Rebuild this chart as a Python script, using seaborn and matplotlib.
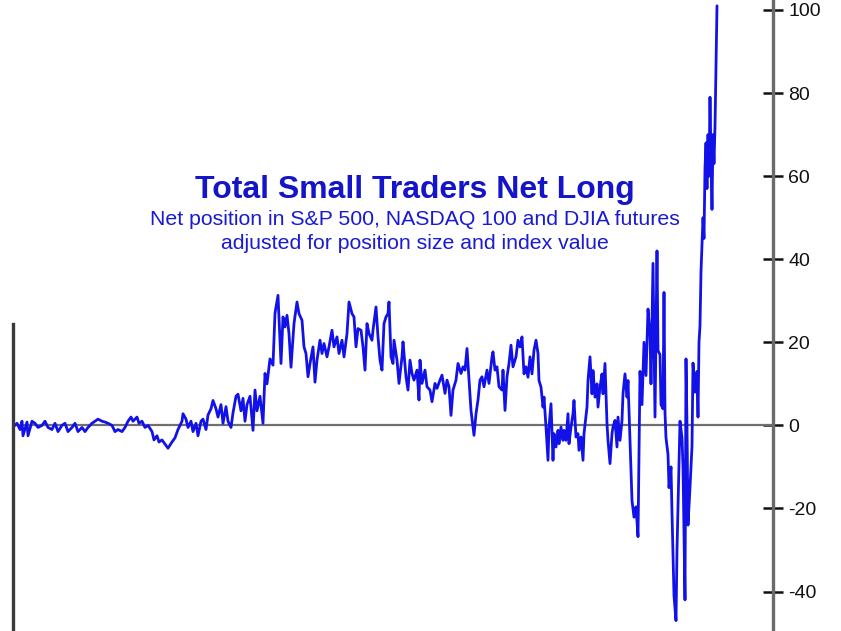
import numpy as np
import pandas as pd
import matplotlib.pyplot as plt
import seaborn as sns

# (week, net long) readings, split into eras
flat_era = [(0, 0.0), (2, 0.5), (5, -1.0), (7, 1.0), (8, -2.5), (12, 0.8), (13, -2.5), (17, 1.0),
            (20, 0.5), (23, -0.5), (27, 0.0), (30, 1.0), (33, -0.5), (37, -1.0), (40, 0.5), (43, -1.5),
            (47, 0.0), (50, 0.5), (53, -1.5), (57, -0.5), (60, 0.5), (63, -1.5), (67, -0.5), (70, -1.5),
            (73, -0.5), (77, 0.5), (80, 1.0), (83, 1.5), (87, 1.0), (90, 0.8), (93, 0.5), (97, 0.0),
            (100, -1.5), (103, -1.0), (107, -1.5), (110, -0.5), (113, 1.0), (116, 2.0), (118, 1.0),
            (122, 2.0), (124, 0.5), (127, 1.0), (130, -0.5), (133, 0.0), (137, -1.5), (139, -3.5),
            (142, -2.5), (144, -4.0), (147, -3.5), (150, -4.5), (153, -5.5), (157, -4.0), (160, -3.0),
            (163, -1.0)]

rise_era = [(167, 1.0), (168, 2.8), (171, 1.5), (173, -0.5), (176, 1.0), (178, -1.5), (181, 0.5),
            (183, -2.5), (186, 1.0), (188, 1.5), (191, -1.0), (193, 2.5), (196, 4.0), (198, 6.0),
            (201, 4.0), (203, 2.0), (206, 5.0), (208, 0.5), (211, 4.5), (213, 1.0), (216, -0.5),
            (218, 3.0), (221, 7.0), (223, 7.5), (226, 3.5), (228, 6.5), (230, 1.0), (232, 5.0),
            (235, 7.0), (238, -1.2), (240, 8.5), (242, 3.5), (245, 7.0), (248, 0.5), (250, 12.5),
            (252, 10.0), (255, 16.0), (258, 14.5), (260, 27.0), (263, 31.3), (266, 14.9), (268, 26.1),
            (270, 23.7), (272, 26.5), (274, 22.1), (276, 14.0), (279, 24.5), (282, 29.7), (284, 26.9),
            (287, 25.3), (289, 18.9), (291, 17.3), (293, 11.7), (295, 14.9), (298, 18.9), (300, 10.4),
            (302, 15.7), (305, 20.5), (307, 17.3), (309, 19.7), (312, 16.5), (314, 18.9), (317, 22.9),
            (319, 18.9), (322, 21.3), (324, 17.3), (327, 20.5), (329, 16.5), (332, 22.1), (334, 29.7)]

mid_era = [(337, 26.9), (339, 26.1), (341, 18.9), (343, 23.3), (346, 22.9), (348, 18.9), (350, 13.3),
           (352, 24.5), (354, 22.1), (357, 20.5), (358, 22.9), (361, 28.5), (363, 21.3), (365, 15.7),
           (367, 13.3), (369, 24.5), (371, 26.1), (373, 26.9), (374, 29.7), (376, 16.5), (378, 14.9),
           (379, 20.5), (382, 15.7), (384, 10.1), (387, 16.5), (388, 20.1), (391, 11.7), (393, 8.5),
           (395, 15.7), (397, 12.5), (399, 10.9), (402, 13.3), (404, 6.1), (405, 15.7), (407, 10.1),
           (410, 13.3), (412, 9.3), (415, 8.5), (417, 5.7), (420, 10.1), (422, 8.9), (425, 10.9),
           (427, 12.1), (430, 7.7), (432, 10.9), (434, 9.3), (436, 2.4), (438, 8.5), (441, 10.9),
           (443, 14.9), (446, 12.5), (448, 14.1), (450, 13.3), (452, 18.5), (454, 10.9), (456, 3.6),
           (458, -0.4), (459, -2.4), (461, 2.8), (463, 6.1), (465, 10.9), (467, 11.7), (469, 9.3),
           (472, 13.3), (474, 10.1), (477, 16.5), (478, 17.7), (480, 13.3), (482, 14.1), (484, 9.3),
           (487, 8.5), (488, 13.3), (490, 3.6), (492, 11.7), (494, 14.9), (496, 19.3), (498, 14.1),
           (501, 16.5), (503, 20.5), (505, 18.9)]

choppy_era = [(507, 21.3), (509, 12.4), (511, 14.1), (513, 11.6), (515, 16.5), (517, 12.4), (519, 18.1),
              (521, 20.5), (523, 17.3), (524, 10.8), (526, 9.2), (528, 4.4), (529, 6.8), (531, -0.4),
              (533, -8.4), (534, -0.4), (536, 5.2), (538, -8.4), (539, -2.0), (541, -5.2), (543, -1.2),
              (544, -4.4), (546, -0.4), (548, -3.6), (549, -1.2), (551, -3.6), (553, 2.8), (554, -4.4),
              (556, -0.4), (558, 2.8), (559, 6.0), (561, -2.8), (563, -2.0), (564, -6.0), (566, -2.8),
              (568, -8.4), (569, -2.0), (572, 4.4), (573, 10.8), (575, 16.5), (577, 7.6), (578, 13.2),
              (580, 6.8), (582, 10.0), (583, 4.4), (585, 9.2), (587, 12.4), (588, 7.6), (590, 14.9),
              (592, 0.4), (593, -3.6), (595, -9.2), (597, -2.0), (598, -0.4), (600, 1.2), (602, -5.2),
              (603, 2.0), (605, -3.6), (607, 1.2), (608, 7.6), (610, 12.4), (612, 6.8), (613, 10.8),
              (615, -3.6), (617, -18.1), (619, -22.1), (621, -19.6), (623, -26.8)]

wild_era = [(625, 13.0), (627, 5.0), (629, 20.0), (631, 12.0), (633, 28.0), (635, 22.0), (636, 10.0),
            (638, 39.0), (640, 2.0), (642, 42.0), (643, 18.0), (645, 17.0), (646, 5.0), (648, 4.0),
            (649, 32.0), (650, 3.0), (651, -3.0), (653, -7.0), (654, -15.0), (656, -10.0), (657, -21.0),
            (659, -41.0), (661, -47.0), (662, -30.0), (663, -20.0), (665, 1.0), (667, -3.0), (668, -10.0),
            (670, -42.0), (671, 16.0), (672, 0.0), (673, -24.0), (675, -15.0), (677, -5.0), (678, 15.0),
            (680, 8.0), (682, 13.0), (683, 2.0), (684, 20.0), (685, 24.0), (686, 37.0), (688, 50.0),
            (689, 45.0), (690, 62.0), (691, 68.0), (692, 57.0), (693, 70.0), (694, 60.0), (695, 79.0),
            (696, 64.0), (697, 52.0), (698, 70.0), (699, 63.0), (700, 72.0), (702, 101.0)]

yticks = [-40, -20, 0, 20, 40, 60, 80, 100]
title = "Total Small Traders Net Long"
subtitle = ["Net position in S&P 500, NASDAQ 100 and DJIA futures",
            "adjusted for position size and index value"]

df = pd.DataFrame(flat_era + rise_era + mid_era + choppy_era + wild_era,
                  columns=["week", "net_long"])

sns.set_style("white")
plt.rcParams['font.family'] = ['Liberation Sans', 'DejaVu Sans']

fig = plt.figure(figsize=(8.41, 6.31), dpi=100)
ax = fig.add_axes([13 / 841, 0, 760 / 841, 1])

ax.axhline(0, color="#707070", lw=1.6, zorder=1)
sns.lineplot(data=df, x="week", y="net_long", ax=ax, color="#1212e8", lw=2.0, zorder=2)

ax.set_xlim(-2, 758)
ax.set_ylim(-49.5, 102.4)

# axis on the right, partial line on the left
ax.yaxis.tick_right()
ax.set_yticks(yticks)
ax.set_yticklabels([str(t) for t in yticks], fontsize=14, color="#111111")
ax.tick_params(axis="y", direction="inout", length=14, width=1.8, color="#111111", pad=4)
ax.set_xticks([])
ax.set_xlabel("")
ax.set_ylabel("")
for s in ["top", "bottom"]:
    ax.spines[s].set_visible(False)
ax.spines["right"].set_color("#6a6a6a")
ax.spines["right"].set_linewidth(2.4)
ax.spines["left"].set_color("#3a3a3a")
ax.spines["left"].set_linewidth(2.4)
ax.spines["left"].set_bounds(-49.5, 24.5)

ax.text(0.529, 0.699, title, transform=ax.transAxes, ha="center", va="center",
        fontsize=23, fontweight="bold", color="#1414c8")
ax.text(0.529, 0.652, subtitle[0], transform=ax.transAxes, ha="center", va="center",
        fontsize=15.3, color="#1a1ad2")
ax.text(0.529, 0.614, subtitle[1], transform=ax.transAxes, ha="center", va="center",
        fontsize=15.3, color="#1a1ad2")

fig.savefig("out.png", dpi=100)
